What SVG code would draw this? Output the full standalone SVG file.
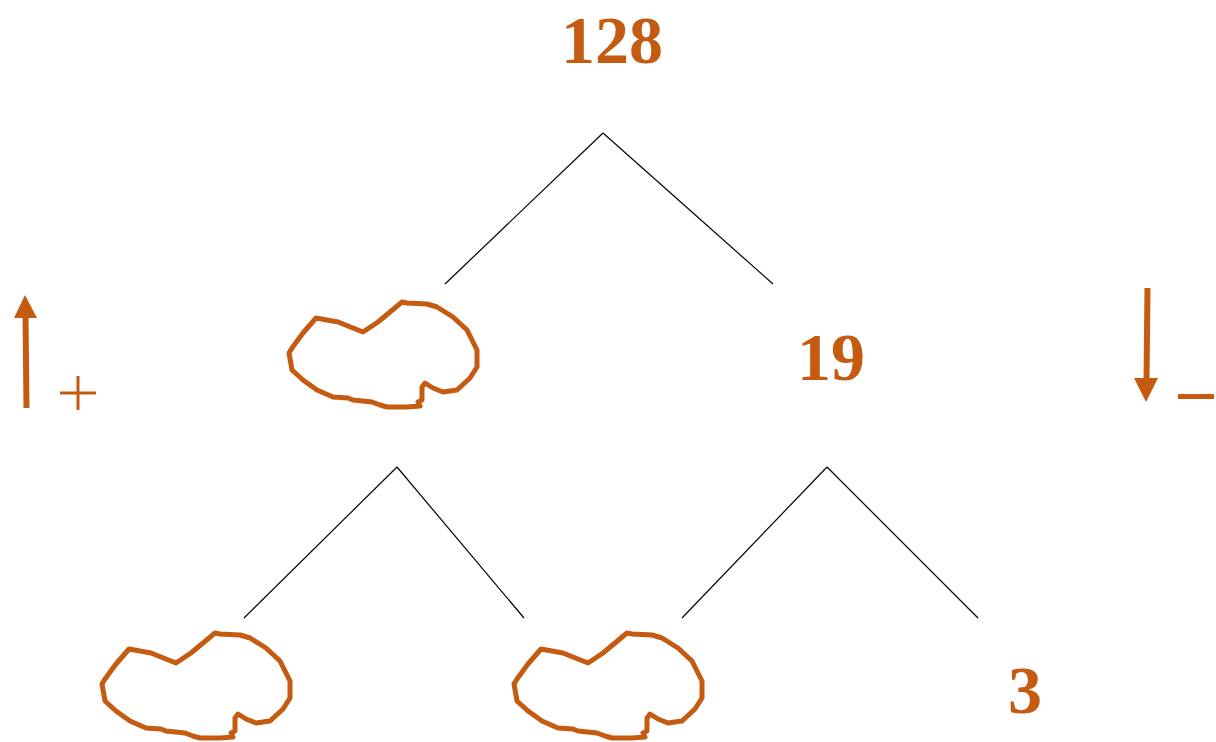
<svg xmlns="http://www.w3.org/2000/svg" width="1216" height="742" viewBox="0 0 1216 742">
<style>
.num{font-family:"Liberation Serif","Times New Roman",serif;font-weight:bold;font-size:68px;fill:#C55A11;text-anchor:middle}
.edge{stroke:#000;stroke-width:1.2;fill:none}
.blob{fill:none;stroke:#C55A11;stroke-width:5;stroke-linejoin:round;stroke-linecap:round}
.sym{stroke:#C55A11;fill:none}
</style>
<defs>
<path id="blobShape" class="blob" d="M316,318 L338,322 L363,332 L378,322 L402,302 L407,303 L427,304 L437,307 L453,317 L467,330 L472,340 L477,350 L477,367 L470,378 L457,390 L443,392 L433,388 L425,383 L422,387 L422,400 L418,402 L420,406 L407,407 L387,407 L380,405 L372,402 L353,400 L348,398 L333,397 L317,390 L303,380 L292,370 L289,353 L292,348 L303,333 Z"/>
</defs>
<g id="connectors">
<line class="edge" x1="603" y1="133" x2="445" y2="284"/>
<line class="edge" x1="603" y1="133" x2="773" y2="284"/>
<line class="edge" x1="397" y1="467" x2="244" y2="618"/>
<line class="edge" x1="397" y1="467" x2="524" y2="618"/>
<line class="edge" x1="827" y1="467" x2="682" y2="618"/>
<line class="edge" x1="827" y1="467" x2="978" y2="618"/>
</g>
<g id="node-128"><text class="num" x="612" y="63">128</text></g>
<g id="node-left"><use href="#blobShape"/></g>
<g id="node-19"><text class="num" x="831" y="380">19</text></g>
<g id="node-ll"><use href="#blobShape" transform="translate(-187,331)"/></g>
<g id="node-lr"><use href="#blobShape" transform="translate(225,331)"/></g>
<g id="node-3"><text class="num" x="1025" y="713">3</text></g>
<g id="legend-plus">
<line class="sym" x1="26.5" y1="408" x2="25.5" y2="316" stroke-width="6"/>
<polygon points="25,295 14,318 37,318" fill="#C55A11"/>
<line class="sym" x1="60" y1="393" x2="96" y2="393" stroke-width="3"/>
<line class="sym" x1="78" y1="376" x2="78" y2="410" stroke-width="3"/>
</g>
<g id="legend-minus">
<line class="sym" x1="1147.5" y1="288" x2="1146.5" y2="382" stroke-width="6"/>
<polygon points="1134,378 1158,378 1146,402" fill="#C55A11"/>
<line class="sym" x1="1178" y1="396.5" x2="1214" y2="396.5" stroke-width="5"/>
</g>
</svg>
